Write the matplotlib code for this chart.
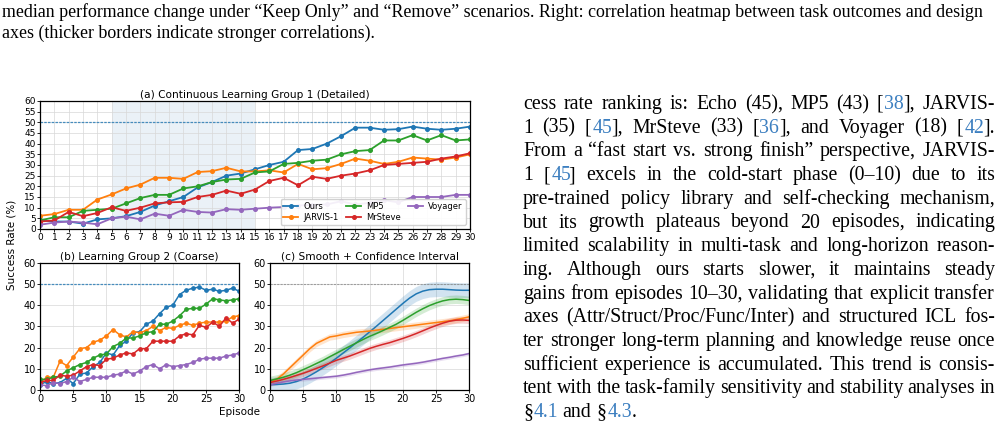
import numpy as np
import matplotlib
matplotlib.use('Agg')
import matplotlib.pyplot as plt

W, H = 1003, 426

episodes = list(range(31))
names = ['Ours', 'JARVIS-1', 'MP5', 'MrSteve', 'Voyager']
colors = ['tab:blue', 'tab:orange', 'tab:green', 'tab:red', 'tab:purple']

# (a) group 1, detailed
a_ours = [4, 3.5, 3.5, 2.5, 4.5, 5, 6, 8, 11, 13, 15, 19.5, 22, 25, 26, 28, 30, 31.5, 37, 37.5,
          40, 43.5, 47.5, 47.5, 46.5, 46.8, 48, 47, 46.5, 47, 48]
a_jarvis = [6.2, 7, 9, 9, 13.8, 16.2, 19, 20.8, 24, 24, 23.5, 26.7, 27.1, 28.7, 27, 27, 27.5, 26.5,
            30.5, 28, 28.5, 30.5, 33, 32, 30.5, 31.5, 33.5, 33, 32.5, 33.5, 35]
a_mp5 = [4, 5.5, 5.5, 8.5, 9, 9.5, 12, 14.5, 16, 16, 19, 20, 22, 23.2, 23.5, 26.5, 27, 30.5, 31, 32,
         32.5, 35, 36.5, 37, 41.5, 41.5, 44, 41.5, 44, 41.5, 42]
a_mrsteve = [3.5, 4, 8, 6, 7.5, 10.2, 8.5, 10, 12, 12.5, 12.7, 15, 16, 18, 16.5, 18.5, 22.5, 24, 20.5,
             24.5, 23.5, 25, 26, 27.5, 30, 30.5, 31, 31.5, 33, 34, 35.5]
a_voyager = [2, 3, 3.5, 3, 2.2, 5, 5.8, 4.5, 7.2, 6.2, 9, 8, 7.7, 9.3, 9, 9.5, 10, 10.3, 11, 11.3,
             11.5, 13, 11.5, 12.3, 13.5, 12.5, 15, 15, 15, 16, 16]

# (b) group 2, coarse
b_ours = [2.5, 4, 3, 3.5, 5.5, 3, 7.5, 8, 11, 13, 17.5, 16.5, 21, 23, 27, 27.5, 31, 32.5, 36, 39,
          40, 45, 47, 48, 48.5, 47, 47.5, 46.5, 47, 48, 46.5]
b_jarvis = [3.5, 6, 6, 13.5, 11.5, 15.5, 19.5, 20, 22.5, 23.5, 25.5, 28.5, 26, 25, 27.5, 27, 28, 30,
            28, 29.5, 29, 30.5, 31.5, 30.5, 31.5, 32, 32, 32, 32.5, 34.5, 35]
b_mp5 = [5, 5, 6, 6.5, 9, 10.5, 12, 13, 15, 16.5, 17, 20.5, 22, 24.5, 24.5, 25.5, 27, 27.5, 31, 31,
         32.5, 35, 38, 38.5, 38.5, 40.5, 43, 42.5, 42, 42.5, 43]
b_mrsteve = [3.5, 4.5, 4.5, 7, 6.5, 7, 9, 11, 12, 11.5, 14.5, 15, 16.5, 17.5, 17, 19.5, 19.5, 23, 23,
             23, 23, 25.5, 26.5, 26, 30.5, 29.5, 32, 30, 34, 31.5, 33.5]
b_voyager = [2.5, 2, 3.5, 3, 4, 6, 4, 5, 6, 6, 6, 7, 7.5, 9, 7.5, 9, 11, 12, 10, 12, 11, 11.5, 12, 13,
             14.5, 15, 15, 15, 16, 16.5, 17.5]

# (c) smoothed curves and half-width of the confidence band
c_ours = [2.5, 2.6, 2.8, 3.2, 4.0, 5.2, 6.8, 8.6, 10.6, 12.7, 15.0, 17.4, 19.8, 22.3, 24.8, 27.4,
          30.0, 32.7, 35.4, 38.1, 40.8, 43.3, 45.3, 46.6, 47.3, 47.5, 47.5, 47.3, 47.1, 47.0, 47.0]
c_jarvis = [3.5, 5.0, 7.5, 10.5, 13.5, 16.5, 19.5, 22.0, 23.5, 25.0, 25.5, 26.2, 26.7, 27.2, 27.5,
            27.8, 28.2, 28.6, 29.0, 29.4, 29.8, 30.2, 30.6, 31.0, 31.4, 31.8, 32.2, 32.6, 33.2, 33.8, 34.5]
c_mp5 = [4.5, 5.2, 6.0, 7.0, 8.2, 9.6, 11.0, 12.5, 14.0, 15.7, 17.3, 19.0, 20.6, 22.2, 23.8, 25.3,
         26.6, 28.0, 29.5, 31.0, 32.8, 34.7, 36.6, 38.3, 39.8, 41.0, 42.0, 42.6, 42.8, 42.6, 42.2]
c_mrsteve = [3.5, 4.2, 5.0, 5.9, 6.9, 7.9, 9.0, 10.2, 11.4, 12.7, 14.0, 15.0, 16.0, 17.2, 18.4, 19.6,
             20.6, 21.5, 22.3, 23.3, 24.3, 25.4, 26.6, 27.9, 29.2, 30.4, 31.5, 32.4, 32.9, 33.0, 32.8]
c_voyager = [2.5, 3.2, 3.8, 4.3, 4.7, 5.0, 5.3, 5.6, 5.9, 6.2, 6.5, 7.0, 7.6, 8.3, 8.9, 9.5, 10.0,
             10.4, 10.8, 11.3, 11.8, 12.2, 12.6, 13.1, 13.7, 14.3, 14.9, 15.4, 16.0, 16.5, 17.2]
c_band = [3.5, 1.5, 2.0, 1.5, 0.8]

caption = ['median performance change under \u201cKeep Only\u201d and \u201cRemove\u201d scenarios. Right: correlation heatmap between task outcomes and design',
           'axes (thicker borders indicate stronger correlations).']

# {..} marks blue (hyperlink) text
para = ['cess rate ranking is: Echo (45), MP5 (43) [{38}], JARVIS-',
        '1 (35) [{45}], MrSteve (33) [{36}], and Voyager (18) [{42}].',
        'From a \u201cfast start vs. strong finish\u201d perspective, JARVIS-',
        '1 [{45}] excels in the cold-start phase (0\u201310) due to its',
        'pre-trained policy library and self-checking mechanism,',
        'but its growth plateaus beyond 20 episodes, indicating',
        'limited scalability in multi-task and long-horizon reason-',
        'ing. Although ours starts slower, it maintains steady',
        'gains from episodes 10\u201330, validating that explicit transfer',
        'axes (Attr/Struct/Proc/Func/Inter) and structured ICL fos-',
        'ter stronger long-term planning and knowledge reuse once',
        'sufficient experience is accumulated. This trend is consis-',
        'tent with the task-family sensitivity and stability analyses in',
        '\u00a7{4.1} and \u00a7{4.3}.']

serif = 'Liberation Serif'
link = '#3c7fc0'

# scratch canvas: find where a string's ink really ends once drawn
scratch = plt.figure(figsize=(3, 0.5), dpi=100)
probe = scratch.text(10 / 300, 0.3, '', family=serif)


def ink_right(s, size):
    probe.set_text(s)
    probe.set_fontsize(size)
    scratch.canvas.draw()
    img = np.asarray(scratch.canvas.buffer_rgba())[:, :, 0]
    cols = np.where((img < 250).any(axis=0))[0]
    return cols.max() if len(cols) else 0


fig = plt.figure(figsize=(W / 100, H / 100), dpi=100)
renderer = fig.canvas.get_renderer()


def px(x, y):
    return x / W, 1 - y / H


def ink(s, size):
    t = fig.text(0, 0, s, fontsize=size, family=serif)
    w = t.get_window_extent(renderer).width
    t.remove()
    return w


def width_of(s, size):
    return ink('|' + s + '|', size) - ink('||', size)


def put(x, y, s, size, color='black'):
    fig.text(*px(x, y), s, fontsize=size, family=serif, va='baseline', color=color)


def segments(word):
    out, blue, cur = [], False, ''
    for ch in word:
        if ch in '{}':
            if cur:
                out.append((cur, blue))
            cur, blue = '', ch == '{'
        else:
            cur += ch
    if cur:
        out.append((cur, blue))
    return out


def draw_word(x, y, word, size):
    done = ''
    for i, (s, blue) in enumerate(segments(word)):
        done += s
        xs = x if i == 0 else x + ink_right(done, size) - ink_right(s, size)
        put(xs, y, s, size, link if blue else 'black')


def draw_line(text, x0, x1, y, size, justify):
    words = text.split()
    widths = [width_of(w.replace('{', '').replace('}', ''), size) for w in words]
    if justify and len(words) > 1:
        gap = (x1 - x0 - sum(widths)) / (len(words) - 1)
    else:
        gap = width_of(' ', size)
    x = x0
    for w, ww in zip(words, widths):
        draw_word(x, y, w, size)
        x += ww + gap


for i, line in enumerate(para):
    draw_line(line, 523, 995, 109 + i * 23.7, 14.3, i != len(para) - 1)
plt.close(scratch)

cap_size = 13.4 * 983 / width_of(caption[0], 13.4)
put(2, 17, caption[0], cap_size)
put(2, 38, caption[1], cap_size)

# chart panels
ax_a = fig.add_axes([40 / W, 1 - 229 / H, 430 / W, 128 / H])
ax_b = fig.add_axes([40 / W, 1 - 390 / H, 199.3 / W, 127.3 / H])
ax_c = fig.add_axes([270 / W, 1 - 390 / H, 199.3 / W, 127.3 / H])

a_series = [a_ours, a_jarvis, a_mp5, a_mrsteve, a_voyager]
b_series = [b_ours, b_jarvis, b_mp5, b_mrsteve, b_voyager]
c_series = [c_ours, c_jarvis, c_mp5, c_mrsteve, c_voyager]

ax_a.axvspan(5, 15, color='#dae6f2', alpha=0.55, lw=0, zorder=0)
for ys, nm, col in zip(a_series, names, colors):
    ax_a.plot(episodes, ys, color=col, marker='o', ms=2.6, lw=1.3, label=nm)
ax_a.axhline(50, color='tab:blue', ls=(0, (2, 1)), lw=0.9, alpha=0.8)
ax_a.set_xticks(range(0, 31))
ax_a.set_yticks(range(0, 61, 5))
ax_a.set_title('(a) Continuous Learning Group 1 (Detailed)', fontsize=7.6, pad=2)
ax_a.legend(ncol=3, fontsize=6, loc='lower right', handlelength=1.8, handletextpad=0.6,
            columnspacing=0.9, borderpad=0.35, labelspacing=0.25, framealpha=0.9)

for ys, col in zip(b_series, colors):
    ax_b.plot(episodes, ys, color=col, marker='o', ms=2.4, lw=1.1)
ax_b.axhline(50, color='tab:blue', ls=(0, (2, 1)), lw=0.9, alpha=0.8)
ax_b.set_title('(b) Learning Group 2 (Coarse)', fontsize=7.6, pad=2)

for ys, col, hw in zip(c_series, colors, c_band):
    ys = np.array(ys)
    ax_c.fill_between(episodes, ys - hw, ys + hw, color=col, alpha=0.2, lw=0)
    ax_c.plot(episodes, ys, color=col, lw=1.1)
ax_c.axhline(50, color='gray', ls=(0, (2, 1)), lw=0.8, alpha=0.7)
ax_c.set_title('(c) Smooth + Confidence Interval', fontsize=7.6, pad=2)

for ax in (ax_b, ax_c):
    ax.set_xticks(range(0, 31, 5))
    ax.set_yticks(range(0, 61, 10))
    ax.tick_params(labelsize=7)

for ax in (ax_a, ax_b, ax_c):
    ax.set_xlim(0, 30)
    ax.set_ylim(0, 60)
    ax.grid(True, color='#d8d8d8', lw=0.5)
    ax.set_axisbelow(True)
    ax.tick_params(length=2, width=0.6, pad=1)
    for sp in ax.spines.values():
        sp.set_linewidth(0.9)
ax_a.tick_params(labelsize=6.5)

fig.text(*px(240, 412), 'Episode', fontsize=7.5, ha='center', va='center')
fig.text(*px(12, 245), 'Success Rate (%)', fontsize=7.5, ha='center', va='center', rotation=90)

fig.savefig('out.png', dpi=100)
